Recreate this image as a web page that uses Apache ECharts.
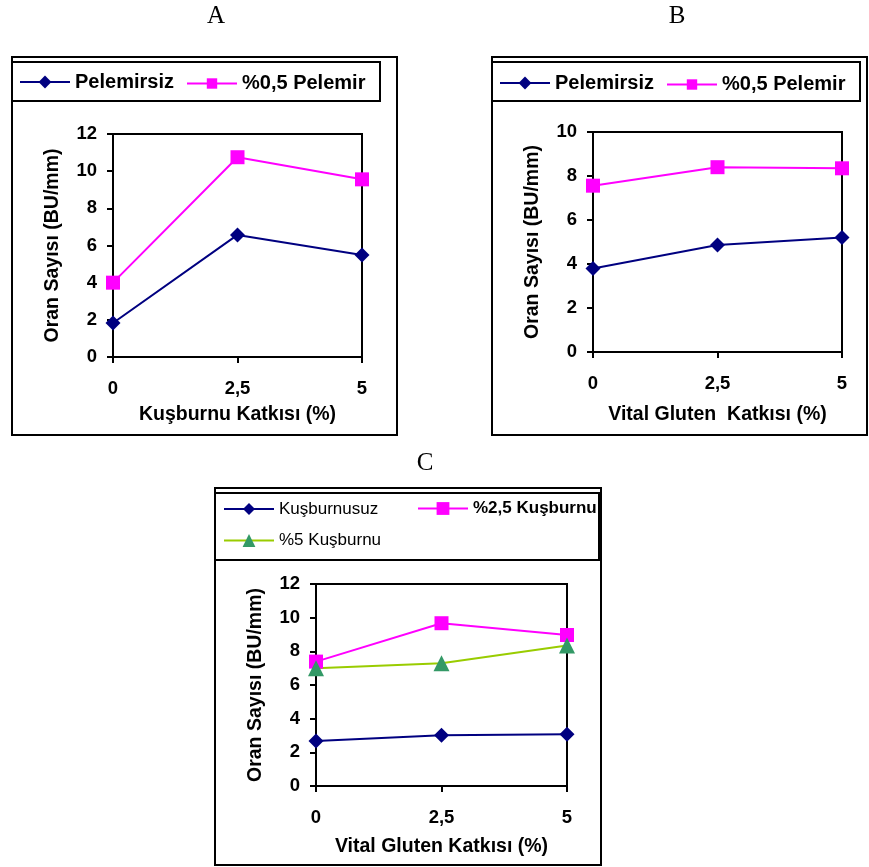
<!DOCTYPE html>
<html>
<head>
<meta charset="utf-8">
<script src="https://cdn.jsdelivr.net/npm/echarts@6/dist/echarts.min.js"></script>
<style>
  html, body { margin: 0; padding: 0; background: #fff; }
  #chart { width: 869px; height: 867px; }
</style>
</head>
<body>
<div id="chart"></div>
<script>
// Additive levels on the x axis (%)
const xCategories = ['0', '2,5', '5'];

// Panel A: Kuşburnu katkısı
const pelemirsizA = [1.83, 6.57, 5.49];
const pelemirA = [4.0, 10.75, 9.56];

// Panel B: Vital gluten katkısı
const pelemirsizB = [3.8, 4.86, 5.2];
const pelemirB = [7.56, 8.4, 8.35];

// Panel C: Vital gluten katkısı at three kuşburnu levels
const kusburnusuzC = [2.67, 3.01, 3.07];
const kusburnu25C = [7.39, 9.67, 8.97];
const kusburnu5C = [6.99, 7.29, 8.34];

// Y axis ranges per panel
const yMaxA = 12, yMaxB = 10, yMaxC = 12, yStep = 2;

const FONT = '"Liberation Sans", Arial, sans-serif';
const NAVY = '#000080', MAGENTA = '#FF00FF', LIME = '#99CC00', SEA = '#339966';

function xAxisFor(gridIndex, name, nameGap) {
  return {
    type: 'category', gridIndex, data: xCategories, boundaryGap: false,
    name, nameLocation: 'middle', nameGap,
    nameTextStyle: { fontFamily: FONT, fontSize: 19.5, fontWeight: 'bold', color: '#000' },
    axisLine: { show: true, lineStyle: { color: '#000', width: 2 } },
    axisTick: { show: true, length: 6, lineStyle: { color: '#000', width: 2 } },
    axisLabel: { margin: 22, color: '#000', fontFamily: FONT, fontSize: 18.5, fontWeight: 'bold' },
    splitLine: { show: false }
  };
}

function yAxisFor(gridIndex, max) {
  return {
    type: 'value', gridIndex, min: 0, max, interval: yStep,
    name: 'Oran Sayısı (BU/mm)', nameLocation: 'middle', nameGap: 50, nameRotate: 90,
    nameTextStyle: { fontFamily: FONT, fontSize: 19.5, fontWeight: 'bold', color: '#000' },
    axisLine: { show: true, lineStyle: { color: '#000', width: 2 } },
    axisTick: { show: true, length: 6, lineStyle: { color: '#000', width: 2 } },
    axisLabel: { margin: 16, color: '#000', fontFamily: FONT, fontSize: 18.5, fontWeight: 'bold' },
    splitLine: { show: false }
  };
}

function lineSeries(name, data, idx, symbol, size, lineColor, fillColor) {
  return {
    type: 'line', name, data, xAxisIndex: idx, yAxisIndex: idx,
    symbol, symbolSize: size, clip: false, animation: false,
    lineStyle: { color: lineColor, width: 2 },
    itemStyle: { color: fillColor, borderWidth: 0 }
  };
}

function legendFor(name, left, cy, h, fontSize, weight) {
  return {
    data: [{ name }], left, top: cy - h / 2, orient: 'horizontal', padding: 0,
    itemWidth: 50, itemHeight: h, selectedMode: false,
    textStyle: { fontFamily: FONT, fontSize, fontWeight: weight, color: '#000', lineHeight: h }
  };
}

function box(x1, y1, x2, y2) {
  return {
    type: 'rect', z: 0, silent: true,
    shape: { x: x1, y: y1, width: x2 - x1, height: y2 - y1 },
    style: { fill: 'none', stroke: '#000', lineWidth: 2 }
  };
}

function panelLetter(text, x, y) {
  return {
    type: 'text', silent: true,
    style: { text, x, y, font: '25px "Liberation Serif", "Times New Roman", serif',
             fill: '#000', align: 'center', verticalAlign: 'middle' }
  };
}

const gridBase = { show: true, borderColor: '#000', borderWidth: 2, containLabel: false, outerBoundsMode: 'none' };

const option = {
  animation: false,
  backgroundColor: '#fff',
  grid: [
    Object.assign({ left: 113, top: 134, width: 249, height: 223 }, gridBase),
    Object.assign({ left: 593, top: 132, width: 249, height: 220 }, gridBase),
    Object.assign({ left: 316, top: 584, width: 251, height: 202 }, gridBase)
  ],
  xAxis: [
    xAxisFor(0, 'Kuşburnu Katkısı (%)', 48),
    xAxisFor(1, 'Vital Gluten  Katkısı (%)', 53),
    xAxisFor(2, 'Vital Gluten Katkısı (%)', 51)
  ],
  yAxis: [yAxisFor(0, yMaxA), yAxisFor(1, yMaxB), yAxisFor(2, yMaxC)],
  legend: [
    legendFor('Pelemirsiz', 19, 80, 16, 20, 'bold'),
    legendFor('%0,5 Pelemir', 186, 80, 13, 20, 'bold'),
    legendFor('Pelemirsiz', 499, 81, 16, 20, 'bold'),
    legendFor('%0,5 Pelemir', 666, 81, 13, 20, 'bold'),
    legendFor('Kuşburnusuz', 223, 508, 15, 17, 'normal'),
    legendFor('%2,5 Kuşburnu', 417, 508, 16, 17, 'bold'),
    legendFor('%5 Kuşburnu', 223, 540, 16, 17, 'normal')
  ],
  series: [
    lineSeries('Pelemirsiz', pelemirsizA, 0, 'diamond', 15, NAVY, NAVY),
    lineSeries('%0,5 Pelemir', pelemirA, 0, 'rect', 14, MAGENTA, MAGENTA),
    lineSeries('Pelemirsiz', pelemirsizB, 1, 'diamond', 15, NAVY, NAVY),
    lineSeries('%0,5 Pelemir', pelemirB, 1, 'rect', 14, MAGENTA, MAGENTA),
    lineSeries('Kuşburnusuz', kusburnusuzC, 2, 'diamond', 15, NAVY, NAVY),
    lineSeries('%2,5 Kuşburnu', kusburnu25C, 2, 'rect', 14, MAGENTA, MAGENTA),
    lineSeries('%5 Kuşburnu', kusburnu5C, 2, 'triangle', 16, LIME, SEA)
  ],
  graphic: [
    panelLetter('A', 216, 16),
    panelLetter('B', 677, 16),
    panelLetter('C', 425, 463),
    box(12, 57, 397, 435),
    box(12, 62, 380, 101),
    box(492, 57, 867, 435),
    box(492, 62, 860, 101),
    box(215, 488, 601, 865),
    box(215, 493, 599, 560)
  ]
};

const chart = echarts.init(document.getElementById('chart'), null, { renderer: 'canvas' });
chart.setOption(option);
</script>
</body>
</html>
